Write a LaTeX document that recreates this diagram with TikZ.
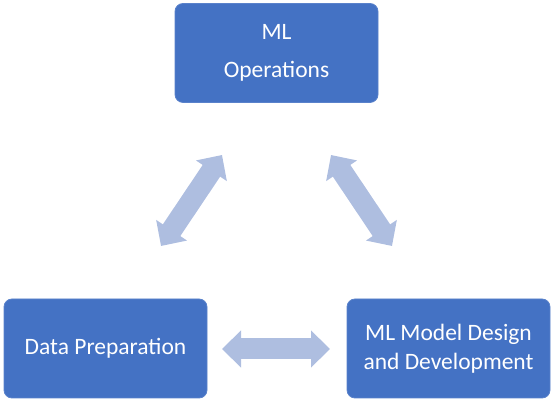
\documentclass[tikz,border=0pt]{standalone}
\usepackage{fontspec}
\setmainfont{Carlito}
\usetikzlibrary{arrows.meta}
\definecolor{boxblue}{HTML}{4472C4}
\definecolor{boxedge}{HTML}{5A82CB}
\definecolor{arrblue}{HTML}{AEBEE0}
\begin{document}
\begin{tikzpicture}[x=1pt,y=1pt,
  stagebox/.style={draw=boxedge, line width=0.8pt, fill=boxblue, rounded corners=8pt,
    minimum width=203pt, minimum height=99pt, text=white, align=center,
    font=\fontsize{23.5}{29}\selectfont, inner sep=0pt},
  blockarrow/.style={draw=arrblue, line width=21pt,
    {Triangle[length=19pt,width=36pt,fill=arrblue]}-{Triangle[length=19pt,width=36pt,fill=arrblue]}}]
\useasboundingbox (0,0) rectangle (553,403);
\node[stagebox, font=\fontsize{23.5}{38}\selectfont] (ops) at (276.5,350) {ML\\Operations};
\node[stagebox] (data) at (105.5,54.5) {Data Preparation};
\node[stagebox] (model) at (448.5,54.5) {ML Model Design\\and Development};
\coordinate (a1) at (161,157);
\coordinate (a2) at (222,248);
\coordinate (b1) at (331,248);
\coordinate (b2) at (392,157);
\coordinate (c1) at (222,54);
\coordinate (c2) at (330,54);
\draw[blockarrow] (a1) -- (a2);
\draw[blockarrow] (b1) -- (b2);
\draw[blockarrow] (c1) -- (c2);
\end{tikzpicture}
\end{document}
